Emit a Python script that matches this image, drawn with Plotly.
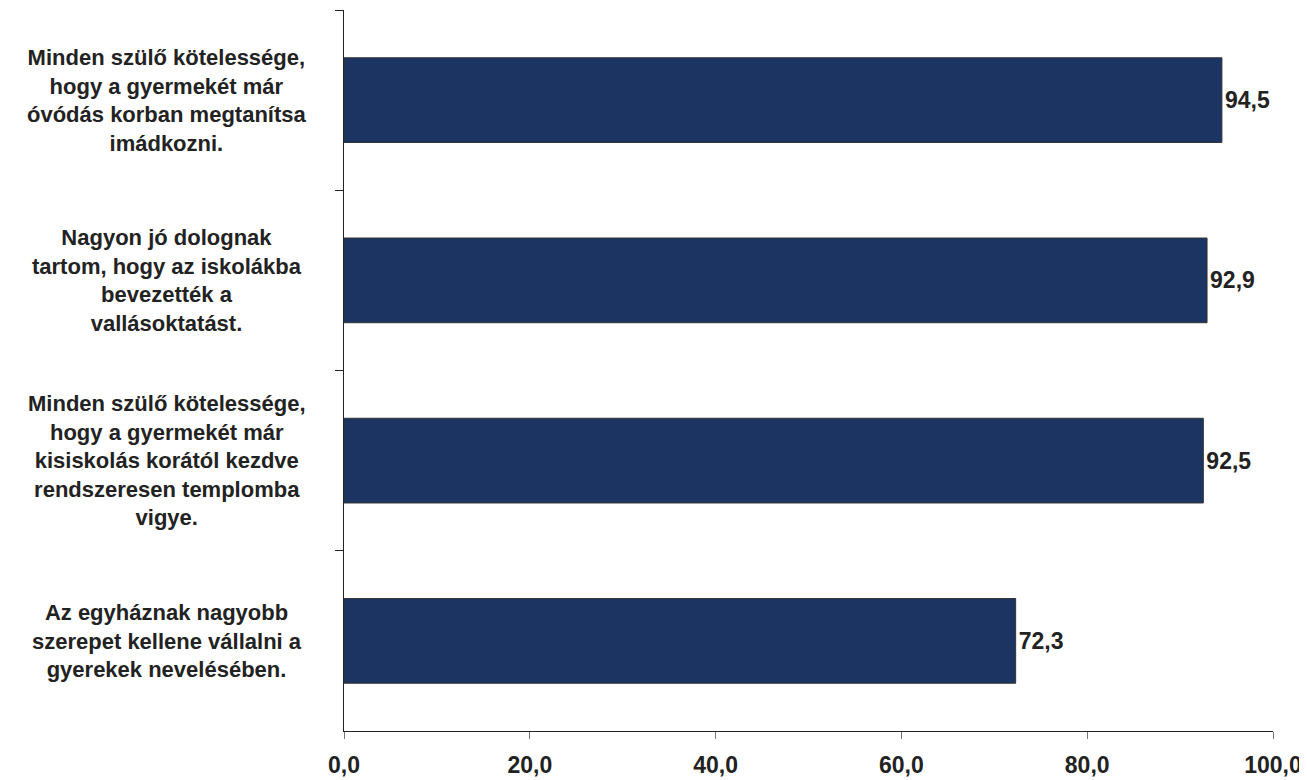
import plotly.graph_objects as go

categories = [
    "Minden szülő kötelessége,<br>hogy a gyermekét már<br>óvódás korban megtanítsa<br>imádkozni.",
    "Nagyon jó dolognak<br>tartom, hogy az iskolákba<br>bevezették a<br>vallásoktatást.",
    "Minden szülő kötelessége,<br>hogy a gyermekét már<br>kisiskolás korától kezdve<br>rendszeresen templomba<br>vigye.",
    "Az egyháznak nagyobb<br>szerepet kellene vállalni a<br>gyerekek nevelésében.",
]
values = [94.5, 92.9, 92.5, 72.3]
tick_values = [0, 20, 40, 60, 80, 100]

ids = [f"c{i}" for i in range(len(categories))]
font = "Liberation Sans, Arial, sans-serif"
txt = "#222222"

fig = go.Figure(go.Bar(
    y=ids, x=values, orientation="h",
    marker=dict(color="#1B3461", line=dict(color="#333333", width=1)),
    text=values, texttemplate="%{x:.1f}", textposition="outside",
    textfont=dict(family=font, size=23, color=txt, weight="bold"),
    cliponaxis=False,
))

for cid, lab in zip(ids, categories):
    fig.add_annotation(
        x=-0.19, xref="paper", y=cid, yref="y", text=lab,
        showarrow=False, xanchor="center", yanchor="middle", align="center",
        font=dict(family=font, size=22, color=txt, weight="bold"),
    )

# page body has an 8px default margin: size the figure to fill the 1307x780 window
fig.update_layout(
    width=1299, height=772,
    margin=dict(l=336, r=34, t=2, b=49, autoexpand=False),
    plot_bgcolor="white", paper_bgcolor="white",
    separators=",.",
    bargap=0.53,
    showlegend=False,
    font=dict(family=font, size=20, color=txt),
)
fig.update_xaxes(
    range=[0, 100], tickvals=tick_values, tickformat=".1f",
    showline=True, linecolor="#222222", linewidth=1,
    ticks="outside", ticklen=7, tickcolor="#777777",
    showgrid=False, zeroline=False, automargin=False,
    tickfont=dict(family=font, size=23, color=txt, weight="bold"),
    ticklabelstandoff=6,
)
fig.update_yaxes(
    categoryorder="array", categoryarray=ids, autorange="reversed",
    showticklabels=False, tickson="boundaries",
    showline=True, linecolor="#222222", linewidth=1,
    ticks="outside", ticklen=8, tickcolor="#222222",
    showgrid=False, zeroline=False, automargin=False,
)
fig.write_html("out.html")
